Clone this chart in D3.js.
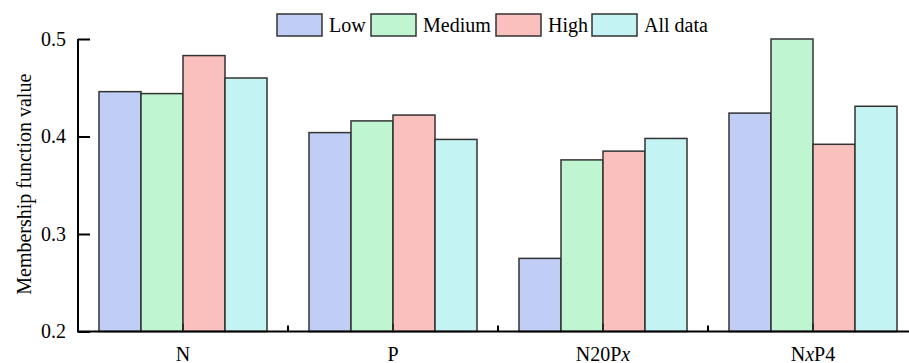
<!DOCTYPE html>
<html>
<head>
<meta charset="utf-8">
<script src="https://cdn.jsdelivr.net/npm/d3@7"></script>
<style>
  html, body { margin: 0; padding: 0; background: #fff; }
  svg { display: block; }
</style>
</head>
<body>
<svg id="chart" width="909" height="363"></svg>
<script>
const categories = ["N", "P", "N20Px", "NxP4"];
const seriesNames = ["Low", "Medium", "High", "All data"];
const lowValues = [0.446, 0.404, 0.275, 0.424];
const mediumValues = [0.444, 0.416, 0.376, 0.500];
const highValues = [0.483, 0.422, 0.385, 0.392];
const allValues = [0.460, 0.397, 0.398, 0.431];
const yTicks = [0.2, 0.3, 0.4, 0.5];
const colors = ["#c0cdf5", "#c0f5d1", "#f9c0bd", "#c3f3f2"];

const seriesValues = [lowValues, mediumValues, highValues, allValues];

const svg = d3.select("#chart");
const margin = {left: 78, top: 39, bottom: 331.5};
const xRight = 918;

const x = d3.scaleBand().domain(categories).range([margin.left, xRight])
  .paddingInner(0.2).paddingOuter(0.1);
const xs = d3.scaleBand().domain(seriesNames).range([0, x.bandwidth()]);
const y = d3.scaleLinear().domain([0.2, 0.5]).range([margin.bottom, margin.top]);

const font = "'Liberation Serif', 'Times New Roman', serif";

// bars
const groups = svg.append("g").selectAll("g").data(categories).join("g")
  .attr("transform", d => `translate(${x(d)},0)`);
groups.selectAll("rect")
  .data((c, ci) => seriesNames.map((s, si) => ({s, si, v: seriesValues[si][ci]})))
  .join("rect")
  .attr("x", d => xs(d.s))
  .attr("width", xs.bandwidth())
  .attr("y", d => y(d.v))
  .attr("height", d => y(0.2) - y(d.v))
  .attr("fill", d => colors[d.si])
  .attr("stroke", "#333")
  .attr("stroke-width", 1.5);

// y axis
const yAxis = d3.axisRight(y).tickValues(yTicks).tickSize(12).tickFormat(d3.format(".1f"));
const gy = svg.append("g").attr("transform", `translate(${margin.left},0)`).call(yAxis);
gy.select(".domain").attr("stroke", "#000").attr("stroke-width", 2).attr("d", `M0,${margin.top}V${margin.bottom}`);
gy.selectAll(".tick line").attr("stroke", "#000").attr("stroke-width", 2);
gy.selectAll(".tick text").attr("x", -12).attr("text-anchor", "end")
  .style("font-family", font).style("font-size", "20px").attr("fill", "#000").attr("dy", "0.32em");

// x axis
const gx = svg.append("g").attr("transform", `translate(0,${margin.bottom})`);
gx.append("line").attr("x1", margin.left - 1).attr("x2", xRight).attr("y1", 0).attr("y2", 0)
  .attr("stroke", "#000").attr("stroke-width", 2);
const boundaries = categories.slice(1).map(c => x(c) - x.step() * x.paddingInner() / 2);
gx.selectAll(".bt").data(boundaries).join("line")
  .attr("x1", d => d).attr("x2", d => d).attr("y1", 0).attr("y2", -6)
  .attr("stroke", "#000").attr("stroke-width", 2);
gx.selectAll(".ct").data(categories).join("line")
  .attr("x1", d => x(d) + x.bandwidth() / 2).attr("x2", d => x(d) + x.bandwidth() / 2)
  .attr("y1", 0).attr("y2", -8)
  .attr("stroke", "#222").attr("stroke-width", 1.5);
const xl = gx.selectAll(".xl").data(categories).join("text")
  .attr("x", d => x(d) + x.bandwidth() / 2).attr("y", 29)
  .attr("text-anchor", "middle")
  .style("font-family", font).style("font-size", "20px").attr("fill", "#000");
xl.each(function(d) {
  const t = d3.select(this);
  const parts = d.split(/(x)/);
  parts.forEach(p => {
    if (!p) return;
    const ts = t.append("tspan").text(p);
    if (p === "x") ts.style("font-style", "italic");
  });
});

// y label
svg.append("text")
  .attr("transform", `translate(24,${(margin.top + margin.bottom) / 2 - 1}) rotate(-90)`)
  .attr("text-anchor", "middle")
  .attr("dy", "0.35em")
  .style("font-family", font).style("font-size", "20px").attr("fill", "#000")
  .text("Membership function value");

// legend
const legendX = [277, 371, 496, 592];
const lg = svg.append("g").selectAll("g").data(seriesNames).join("g")
  .attr("transform", (d, i) => `translate(${legendX[i]},14)`);
lg.append("rect").attr("width", 45).attr("height", 22)
  .attr("fill", (d, i) => colors[i]).attr("stroke", "#333").attr("stroke-width", 1.5);
lg.append("text").attr("x", 52).attr("y", 11).attr("dy", "0.35em")
  .style("font-family", font).style("font-size", "20px").attr("fill", "#000")
  .text(d => d);
</script>
</body>
</html>
